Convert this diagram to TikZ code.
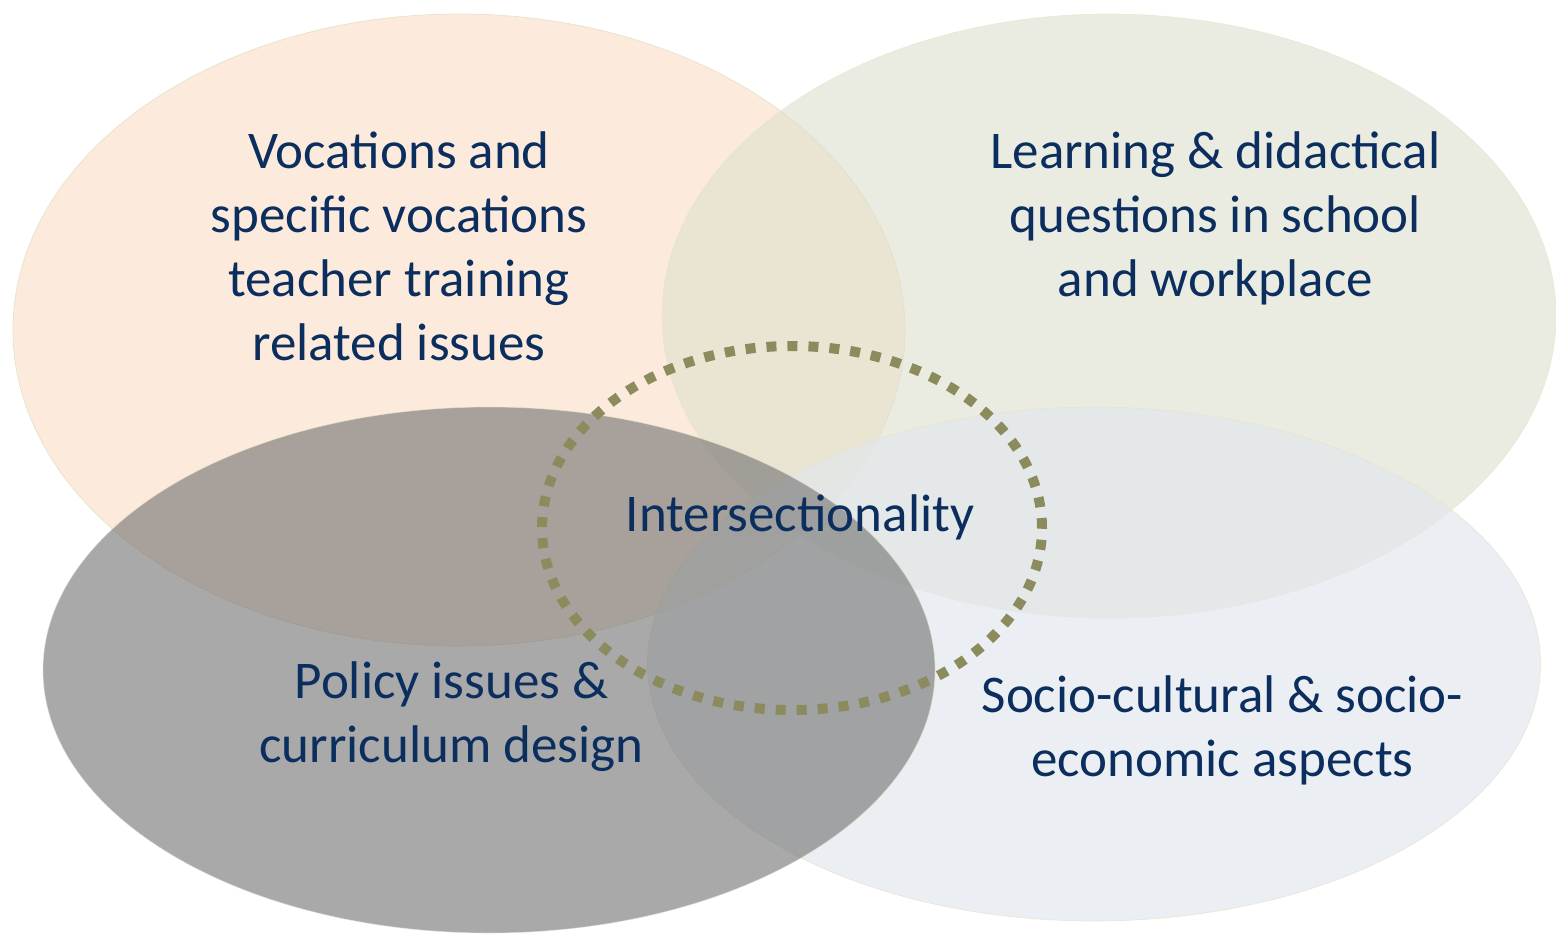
\documentclass[tikz,border=0pt]{standalone}
\usepackage{fontspec}
\setmainfont{Carlito}
\usetikzlibrary{shapes.geometric}
\definecolor{peach}{RGB}{252,235,220}
\definecolor{olivef}{RGB}{222,224,205}
\definecolor{bluef}{RGB}{226,231,236}
\definecolor{grayf}{RGB}{112,112,112}
\definecolor{dotc}{RGB}{139,139,94}
\definecolor{txt}{RGB}{11,46,94}
\definecolor{rim}{RGB}{230,226,200}
\begin{document}
\begin{tikzpicture}[x=0.5pt,y=-0.5pt,
  blob/.style={ellipse,inner sep=0pt,draw=rim,line width=0.35pt},
  lbl/.style={align=center,text=txt,font=\fontsize{26.5pt}{32pt}\selectfont,inner sep=0pt,anchor=base}]
\useasboundingbox (0,0) rectangle (1556,937);
\node[blob,fill=peach,minimum width=446pt,minimum height=316pt] (voc) at (459,330) {};
\node[blob,fill=olivef,fill opacity=0.6,draw opacity=0.6,minimum width=447pt,minimum height=302pt] (learn) at (1109,316) {};
\node[blob,fill=bluef,fill opacity=0.7,draw opacity=0.7,minimum width=446.5pt,minimum height=257pt] (socio) at (1094,664) {};
\node[blob,fill=grayf,fill opacity=0.6,draw opacity=0.6,minimum width=446pt,minimum height=263pt] (policy) at (489,670) {};
\node[ellipse,inner sep=0pt,draw=dotc,line width=5pt,dash pattern=on 5pt off 5.5pt,minimum width=250pt,minimum height=182pt] (inter) at (792,528) {};
\node[lbl] (tvoc) at (399,360) {Vocations and\\specific vocations\\teacher training\\related issues};
\node[lbl] (tlearn) at (1215.5,296) {Learning \& didactical\\questions in school\\and workplace};
\node[lbl] (tinter) at (800,531) {Intersectionality};
\node[lbl] (tpolicy) at (451.5,762) {Policy issues \&\\curriculum design};
\node[lbl] (tsocio) at (1222.5,776) {Socio-cultural \& socio-\\economic aspects};
\end{tikzpicture}
\end{document}
